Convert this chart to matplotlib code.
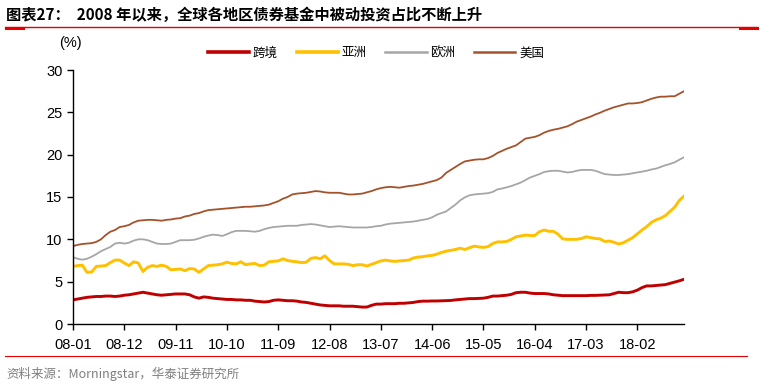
import matplotlib

matplotlib.use("Agg")
import matplotlib.pyplot as plt
from matplotlib.lines import Line2D


TITLE = "图表27：  2008 年以来，全球各地区债券基金中被动投资占比不断上升"
SOURCE = "资料来源：Morningstar，华泰证券研究所"

TICK_LABELS = ["08-01", "08-12", "09-11", "10-10", "11-09", "12-08",
               "13-07", "14-06", "15-05", "16-04", "17-03", "18-02"]
TICK_STEP = 11  # months between labelled ticks

SERIES_NAMES = ["跨境", "亚洲", "欧洲", "美国"]

# monthly values, 2008-01 .. 2018-12 (one row per year)
cross_border = [
    2.85, 2.95, 3.05, 3.15, 3.2, 3.25, 3.25, 3.3, 3.3, 3.25, 3.3, 3.4,
    3.45, 3.55, 3.65, 3.75, 3.65, 3.55, 3.45, 3.4, 3.45, 3.5, 3.55, 3.55,
    3.55, 3.45, 3.2, 3.05, 3.2, 3.15, 3.05, 3.0, 2.95, 2.9, 2.9, 2.85,
    2.85, 2.8, 2.8, 2.7, 2.65, 2.6, 2.65, 2.8, 2.85, 2.8, 2.75, 2.75,
    2.7, 2.6, 2.55, 2.45, 2.35, 2.25, 2.2, 2.15, 2.15, 2.15, 2.1, 2.1,
    2.1, 2.05, 2.0, 2.0, 2.2, 2.35, 2.35, 2.4, 2.4, 2.4, 2.45, 2.45,
    2.5, 2.55, 2.65, 2.7, 2.7, 2.72, 2.72, 2.74, 2.76, 2.78, 2.85, 2.9,
    2.95, 3.0, 3.0, 3.02, 3.05, 3.15, 3.3, 3.3, 3.35, 3.4, 3.5, 3.7,
    3.75, 3.75, 3.65, 3.6, 3.6, 3.6, 3.55, 3.45, 3.4, 3.35, 3.35, 3.35,
    3.35, 3.35, 3.35, 3.38, 3.38, 3.4, 3.42, 3.45, 3.6, 3.75, 3.7, 3.7,
    3.8, 4.0, 4.3, 4.5, 4.5, 4.55, 4.6, 4.65, 4.8, 4.95, 5.1, 5.28,
]
asia = [
    6.8, 6.9, 6.95, 6.1, 6.15, 6.8, 6.85, 6.9, 7.25, 7.55, 7.55, 7.2,
    6.9, 7.35, 7.2, 6.2, 6.7, 6.9, 6.8, 6.95, 6.8, 6.4, 6.45, 6.5,
    6.3, 6.55, 6.5, 6.1, 6.5, 6.9, 6.95, 7.0, 7.1, 7.3, 7.15, 7.1,
    7.35, 7.0, 7.1, 7.15, 6.9, 6.95, 7.35, 7.4, 7.45, 7.7, 7.5, 7.4,
    7.35, 7.25, 7.3, 7.75, 7.85, 7.7, 8.05, 7.5, 7.1, 7.1, 7.1, 7.05,
    6.9, 7.0, 7.0, 6.85, 7.05, 7.25, 7.45, 7.55, 7.45, 7.4, 7.45, 7.5,
    7.55, 7.8, 7.9, 7.95, 8.05, 8.1, 8.25, 8.45, 8.6, 8.7, 8.8, 8.95,
    8.8, 9.0, 9.2, 9.1, 9.05, 9.15, 9.5, 9.7, 9.7, 9.75, 10.0, 10.3,
    10.4, 10.5, 10.45, 10.45, 10.9, 11.1, 10.95, 10.95, 10.6, 10.05, 10.0, 10.0,
    10.0, 10.1, 10.3, 10.2, 10.1, 10.05, 9.75, 9.8, 9.65, 9.45, 9.6, 9.9,
    10.2, 10.65, 11.1, 11.5, 12.0, 12.3, 12.5, 12.8, 13.3, 13.8, 14.6, 15.1,
]
europe = [
    7.9, 7.7, 7.6, 7.7, 7.95, 8.25, 8.6, 8.85, 9.1, 9.5, 9.6, 9.5,
    9.6, 9.85, 10.0, 10.0, 9.9, 9.7, 9.5, 9.45, 9.45, 9.5, 9.7, 9.9,
    9.9, 9.9, 9.95, 10.1, 10.3, 10.45, 10.55, 10.5, 10.4, 10.6, 10.85, 11.0,
    11.0, 11.0, 10.95, 10.9, 11.0, 11.2, 11.35, 11.45, 11.5, 11.55, 11.6, 11.6,
    11.6, 11.7, 11.75, 11.8, 11.75, 11.65, 11.55, 11.45, 11.5, 11.55, 11.5, 11.45,
    11.4, 11.4, 11.4, 11.4, 11.45, 11.55, 11.6, 11.75, 11.85, 11.9, 11.95, 12.0,
    12.05, 12.1, 12.2, 12.3, 12.4, 12.6, 12.9, 13.1, 13.3, 13.7, 14.1, 14.6,
    14.95, 15.2, 15.3, 15.35, 15.4, 15.45, 15.6, 15.9, 16.0, 16.15, 16.3, 16.5,
    16.7, 17.0, 17.3, 17.5, 17.7, 17.95, 18.05, 18.1, 18.1, 18.0, 17.9, 17.95,
    18.1, 18.2, 18.2, 18.2, 18.1, 17.9, 17.7, 17.65, 17.6, 17.6, 17.65, 17.7,
    17.8, 17.9, 18.0, 18.1, 18.25, 18.35, 18.55, 18.75, 18.9, 19.1, 19.4, 19.7,
]
usa = [
    9.2, 9.35, 9.45, 9.5, 9.55, 9.7, 10.0, 10.5, 10.9, 11.1, 11.45, 11.55,
    11.7, 12.0, 12.2, 12.25, 12.3, 12.3, 12.25, 12.2, 12.3, 12.35, 12.45, 12.5,
    12.7, 12.8, 13.0, 13.1, 13.3, 13.45, 13.5, 13.55, 13.6, 13.65, 13.7, 13.75,
    13.8, 13.85, 13.85, 13.9, 13.95, 14.0, 14.1, 14.3, 14.5, 14.8, 15.0, 15.3,
    15.4, 15.45, 15.5, 15.6, 15.7, 15.65, 15.55, 15.5, 15.5, 15.5, 15.4, 15.3,
    15.3, 15.35, 15.4, 15.55, 15.7, 15.9, 16.05, 16.15, 16.2, 16.15, 16.1, 16.2,
    16.3, 16.35, 16.45, 16.55, 16.7, 16.85, 17.0, 17.3, 17.85, 18.2, 18.55, 18.9,
    19.2, 19.3, 19.4, 19.45, 19.45, 19.6, 19.85, 20.2, 20.45, 20.7, 20.9, 21.1,
    21.5, 21.9, 22.0, 22.1, 22.3, 22.6, 22.8, 22.95, 23.05, 23.2, 23.35, 23.6,
    23.9, 24.1, 24.3, 24.5, 24.75, 24.95, 25.2, 25.4, 25.6, 25.75, 25.9, 26.05,
    26.05, 26.1, 26.2, 26.4, 26.6, 26.75, 26.85, 26.85, 26.9, 26.9, 27.2, 27.5,
]

COLORS = ["#C00000", "#FFC000", "#A6A6A6", "#A5522B"]
WIDTHS = [2.1, 2.1, 1.3, 1.3]

CJK = ["Noto Sans CJK SC", "DejaVu Sans"]
LATIN = ["Liberation Sans", "DejaVu Sans"]
RULE_RED = "#E60000"


def main():
    plt.rcParams["font.family"] = LATIN

    fig = plt.figure(figsize=(7.6, 3.88), dpi=100)
    ax = fig.add_axes([73 / 760, 64 / 388, 611 / 760, 254 / 388])

    months = list(range(len(usa)))
    for values, name, color, lw in zip(
        [cross_border, asia, europe, usa], SERIES_NAMES, COLORS, WIDTHS
    ):
        ax.plot(months, values, color=color, linewidth=lw, label=name,
                solid_joinstyle="round")

    ax.set_xlim(0, len(usa) - 1)
    ax.set_ylim(0, 30)
    ax.set_yticks(range(0, 31, 5))
    ax.set_xticks([i * TICK_STEP for i in range(len(TICK_LABELS))])
    ax.set_xticklabels(TICK_LABELS)
    ax.tick_params(axis="both", direction="out", length=4, width=1,
                   labelsize=10.5, colors="black")
    ax.tick_params(axis="x", pad=6)
    for side in ("top", "right"):
        ax.spines[side].set_visible(False)
    for side in ("left", "bottom"):
        ax.spines[side].set_linewidth(1)

    leg = ax.legend(loc="center", bbox_to_anchor=(0.496, 1.067), ncol=4,
                    frameon=False, handlelength=3.3, handletextpad=0.3,
                    columnspacing=1.5, prop={"family": CJK, "size": 9})
    for line in leg.get_lines():
        line.set_linewidth(2.6 if line.get_color() in COLORS[:2] else 1.8)

    fig.text(70 / 760, 1 - 43 / 388, "(%)", ha="center", va="center",
             fontsize=10.5)

    # title, header rule (with short heavy ends) and footer rule
    fig.text(6 / 760, 1 - 15 / 388, TITLE, ha="left", va="center",
             fontsize=11, fontweight="bold", family=CJK)
    fig.add_artist(Line2D([5 / 760, 757 / 760], [1 - 27 / 388] * 2,
                          color=RULE_RED, linewidth=1.0))
    for x0, x1 in ((6, 23), (740, 757)):
        fig.add_artist(Line2D([x0 / 760, x1 / 760], [1 - 28 / 388] * 2,
                              color=RULE_RED, linewidth=2.2))
    fig.add_artist(Line2D([5 / 760, 747 / 760], [1 - 356 / 388] * 2,
                          color=RULE_RED, linewidth=0.8))
    fig.text(6 / 760, 1 - 374 / 388, SOURCE, ha="left", va="center",
             fontsize=9, color="#7F7F7F", family=CJK)

    fig.savefig("out.png", dpi=100)
    plt.close(fig)


if __name__ == "__main__":
    main()
